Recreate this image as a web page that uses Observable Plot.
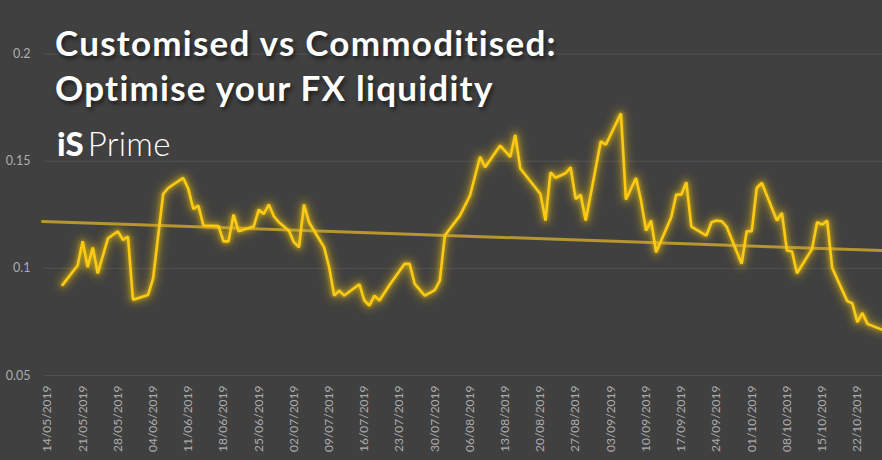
<!DOCTYPE html>
<html><head><meta charset="utf-8">
<script src="https://cdn.jsdelivr.net/npm/d3@7"></script>
<script src="https://cdn.jsdelivr.net/npm/@observablehq/plot@0.6"></script>
<style>
html,body{margin:0;padding:0;background:#404040;}
#wrap{position:relative;width:882px;height:460px;overflow:hidden;background:#404040;}
#chart{position:absolute;left:0;top:0;}
.title{position:absolute;left:55px;top:20px;font-family:Lato,"Open Sans",sans-serif;font-weight:700;font-size:35px;line-height:45px;letter-spacing:1.25px;color:#fff;text-shadow:2px 3px 4px rgba(0,0,0,0.55);white-space:nowrap;}
.brand{position:absolute;left:57px;top:127px;font-family:Lato,sans-serif;font-size:33px;line-height:33px;color:#fff;white-space:nowrap;}
.brand b{font-weight:900;letter-spacing:0px;margin-right:4px;}
.brand span{font-weight:300;letter-spacing:0.3px;}
</style>
</head><body>
<div id="wrap">
  <div id="chart"></div>
  <div class="title">Customised vs Commoditised:<br>Optimise your FX liquidity</div>
  <div class="brand"><b>iS</b><span>Prime</span></div>
</div>
<script>
const dates = ["2019-05-17","2019-05-20","2019-05-21","2019-05-22","2019-05-23","2019-05-24","2019-05-26","2019-05-28","2019-05-29","2019-05-30","2019-05-31","2019-06-03","2019-06-04","2019-06-06","2019-06-07","2019-06-10","2019-06-11","2019-06-12","2019-06-13","2019-06-14","2019-06-17","2019-06-18","2019-06-19","2019-06-20","2019-06-21","2019-06-24","2019-06-25","2019-06-26","2019-06-27","2019-06-28","2019-06-29","2019-07-01","2019-07-02","2019-07-03","2019-07-04","2019-07-05","2019-07-08","2019-07-09","2019-07-10","2019-07-11","2019-07-12","2019-07-15","2019-07-16","2019-07-17","2019-07-18","2019-07-19","2019-07-21","2019-07-24","2019-07-25","2019-07-26","2019-07-28","2019-07-30","2019-07-31","2019-08-01","2019-08-04","2019-08-06","2019-08-08","2019-08-09","2019-08-12","2019-08-14","2019-08-15","2019-08-16","2019-08-20","2019-08-21","2019-08-22","2019-08-23","2019-08-25","2019-08-26","2019-08-27","2019-08-28","2019-08-29","2019-09-01","2019-09-02","2019-09-05","2019-09-06","2019-09-08","2019-09-09","2019-09-10","2019-09-11","2019-09-12","2019-09-15","2019-09-16","2019-09-17","2019-09-18","2019-09-19","2019-09-22","2019-09-23","2019-09-24","2019-09-25","2019-09-26","2019-09-29","2019-09-30","2019-10-01","2019-10-02","2019-10-03","2019-10-06","2019-10-07","2019-10-08","2019-10-09","2019-10-10","2019-10-13","2019-10-14","2019-10-15","2019-10-16","2019-10-17","2019-10-20","2019-10-21","2019-10-22","2019-10-23","2019-10-24","2019-10-27"];
const values = [0.0923,0.1013,0.1126,0.1005,0.1097,0.0976,0.1139,0.1173,0.1133,0.1148,0.0854,0.0876,0.0952,0.1347,0.1375,0.1422,0.1371,0.1277,0.1293,0.1200,0.1198,0.1126,0.1126,0.1251,0.1173,0.1195,0.1274,0.1254,0.1298,0.1243,0.1215,0.1176,0.1122,0.1098,0.1298,0.1215,0.1098,0.1005,0.0873,0.0896,0.0873,0.0926,0.0850,0.0826,0.0873,0.0850,0.0922,0.1021,0.1021,0.0928,0.0873,0.0898,0.0943,0.1153,0.1246,0.1340,0.1521,0.1472,0.1573,0.1520,0.1623,0.1466,0.1347,0.1223,0.1448,0.1423,0.1444,0.1472,0.1324,0.1344,0.1223,0.1593,0.1577,0.1723,0.1321,0.1422,0.1316,0.1176,0.1223,0.1075,0.1238,0.1344,0.1344,0.1402,0.1195,0.1153,0.1215,0.1223,0.1220,0.1195,0.1021,0.1173,0.1173,0.1375,0.1399,0.1223,0.1259,0.1083,0.1080,0.0977,0.1091,0.1215,0.1204,0.1223,0.1002,0.0847,0.0837,0.0749,0.0792,0.0741,0.0713];
const trendDates = ["2019-05-13","2019-10-27"];
const trendValues = [0.1219, 0.1083];
const yTicks = [0.05, 0.1, 0.15, 0.2];
const tickLabels = ["14/05/2019","21/05/2019","28/05/2019","04/06/2019","11/06/2019","18/06/2019","25/06/2019","02/07/2019","09/07/2019","16/07/2019","23/07/2019","30/07/2019","06/08/2019","13/08/2019","20/08/2019","27/08/2019","03/09/2019","10/09/2019","17/09/2019","24/09/2019","01/10/2019","08/10/2019","15/10/2019","22/10/2019"];

const parseISO = d3.utcParse("%Y-%m-%d");
const parseDMY = d3.utcParse("%d/%m/%Y");
const fmtDMY = d3.utcFormat("%d/%m/%Y");
const series = dates.map((d, i) => ({date: parseISO(d), value: values[i]}));
const trend = trendDates.map((d, i) => ({date: parseISO(d), value: trendValues[i]}));
const tickDates = tickLabels.map(parseDMY);
const gridStart = new Date(Date.UTC(2019, 4, 13, 14));
const gridEnd = new Date(Date.UTC(2019, 9, 27));

const chart = Plot.plot({
  width: 882, height: 460,
  marginLeft: 0, marginRight: 0, marginTop: 0, marginBottom: 85,
  style: {background: "transparent", color: "#acacac", fontFamily: "Lato, sans-serif", fontSize: "12px"},
  x: {type: "utc", domain: [new Date(Date.UTC(2019, 4, 4, 16)), new Date(Date.UTC(2019, 9, 27))], label: null},
  y: {domain: [0.05, 0.225], label: null},
  marks: [
    Plot.ruleY(yTicks, {y: d => d, x1: () => gridStart, x2: () => gridEnd, stroke: "#535353", strokeWidth: 1}),
    Plot.axisY(yTicks, {tickSize: 0, tickPadding: 0, dx: 30, tickFormat: d => String(d), fill: "#acacac", fontSize: 12.5}),
    Plot.axisX(tickDates, {tickSize: 0, tickPadding: 10, tickRotate: -90, tickFormat: fmtDMY, fill: "#acacac", fontSize: 12}),
    Plot.line(series, {x: "date", y: "value", stroke: "#f2c20f", strokeWidth: 9, strokeOpacity: 0.35}),
    Plot.line(trend, {x: "date", y: "value", stroke: "#c4a02e", strokeWidth: 3, strokeOpacity: 0.9}),
    Plot.line(series, {x: "date", y: "value", stroke: "#fcc914", strokeWidth: 2.6, strokeLinejoin: "miter"})
  ]
});
document.getElementById("chart").appendChild(chart);
const lines = chart.querySelectorAll('g[aria-label="line"]');
if (lines[0]) lines[0].style.filter = "blur(4px)";
if (lines[2]) lines[2].style.filter = "drop-shadow(0 0 2px rgba(255,214,0,0.7))";
</script>
</body></html>
